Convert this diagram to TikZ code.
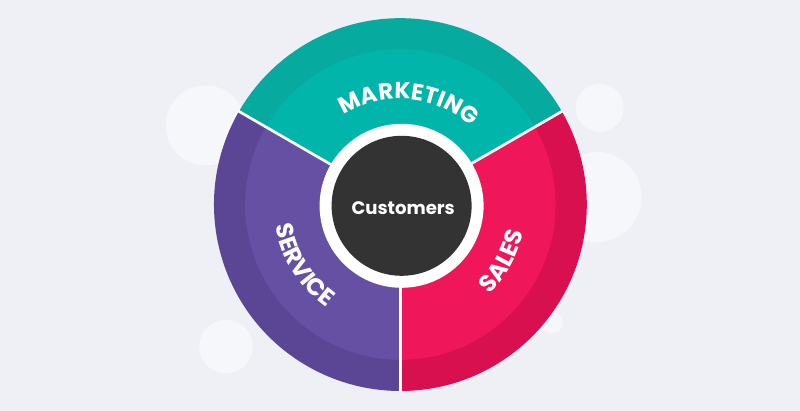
\documentclass[tikz,border=0pt]{standalone}
\usepackage{fontspec}
\usetikzlibrary{decorations.text}
\newfontfamily\poppinsfont{Poppins}
\definecolor{pagebg}{HTML}{EEF0F6}
\definecolor{bubble}{HTML}{F6F7FA}
\definecolor{tealout}{HTML}{06AA9E}
\definecolor{tealin}{HTML}{02B5AA}
\definecolor{redout}{HTML}{D9104F}
\definecolor{redin}{HTML}{F0165A}
\definecolor{purpleout}{HTML}{5B4695}
\definecolor{purplein}{HTML}{6650A4}
\definecolor{hubdark}{HTML}{333333}
\newcommand{\bigfont}{\poppinsfont\bfseries\fontsize{16.4}{16.4}\selectfont\color{white}}
\newcommand{\smallfont}{\poppinsfont\bfseries\fontsize{17}{17}\selectfont\color{white}}
\tikzset{divider/.style = {draw=white, line width = 1.9pt}}
\tikzset{curved/.style = {decorate, decoration = {text along path, text align = center, text = {#1}}}}
\begin{document}
\begin{tikzpicture}
    \useasboundingbox (-10.01, -5.16) rectangle (9.99, 5.115);
    \fill [pagebg] (-10.01, -5.16) rectangle (9.99, 5.115);

    \fill [bubble] (-4.87, 1.98) circle [radius=1.0];
    \fill [bubble] (4.98, 2.42) circle [radius=0.6];
    \fill [bubble] (4.9, 0.19) circle [radius=1.13];
    \fill [bubble] (-4.36, -3.55) circle [radius=0.67];
    \fill [bubble] (3.8, -2.95) circle [radius=0.27];

    \fill [tealout] (0, 0) -- (30:4.66) arc (30:150:4.66) -- cycle;
    \fill [redout] (0, 0) -- (-90:4.66) arc (-90:30:4.66) -- cycle;
    \fill [purpleout] (0, 0) -- (150:4.66) arc (150:270:4.66) -- cycle;

    \fill [tealin] (0, 0) -- (30:3.88) arc (30:150:3.88) -- cycle;
    \fill [redin] (0, 0) -- (-90:3.88) arc (-90:30:3.88) -- cycle;
    \fill [purplein] (0, 0) -- (150:3.88) arc (150:270:3.88) -- cycle;

    \coordinate (hub) at (0.03, -0.03);
    \coordinate (centre) at (0, 0);
    \coordinate (tealred) at (30:4.68);
    \coordinate (tealpurple) at (150:4.68);
    \coordinate (redpurple) at (-90:4.68);
    \draw [divider] (centre) -- (tealred);
    \draw [divider] (centre) -- (tealpurple);
    \draw [divider] (centre) -- (redpurple);

    \fill [white] (hub) circle [radius=2.05];
    \node [fill=hubdark, circle, minimum size=3.5cm, inner sep=0] (customers) at (hub) {};
    \node [text=white] (label) at (0.07, -0.08) {\poppinsfont\bfseries\fontsize{12.9}{12.9}\selectfont Customers};

    \path [curved={|\bigfont|MARKETING}] (125:2.64) arc (125:45:2.64);
    \path [curved={|\smallfont|SERVICE}] (172:3.17) arc (172:252:3.17);
    \path [curved={|\smallfont|SALES}] (-70:3.15) arc (-70:12:3.15);
\end{tikzpicture}
\end{document}
